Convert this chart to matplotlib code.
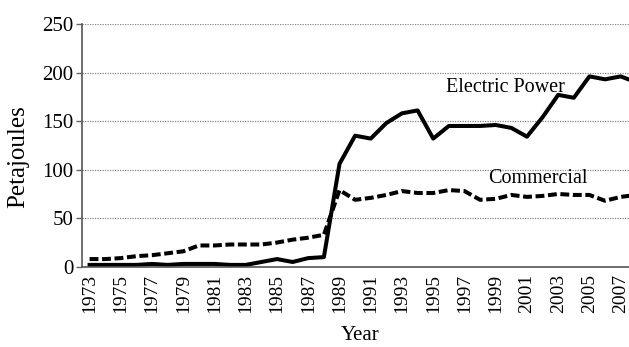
import matplotlib
matplotlib.use('Agg')
import matplotlib.pyplot as plt

plt.rcParams['font.family'] = ['Liberation Serif', 'DejaVu Serif']

# years 1973..2008
years = list(range(1973, 2009))
electric = [2, 2, 2, 2, 3, 2, 3, 3, 3, 2, 2, 5, 8, 5, 9, 10,
            106, 135, 132, 148, 158, 161, 132, 145, 145, 145, 146, 143,
            134, 154, 177, 174, 196, 193, 196, 190]
commercial = [8, 8, 9, 11, 12, 14, 16, 22, 22, 23, 23, 23, 25, 28, 30, 33,
              79, 69, 71, 74, 78, 76, 76, 79, 78, 69, 70, 74,
              72, 73, 75, 74, 74, 68, 72, 74]
tick_years = list(range(1973, 2008, 2))

fig = plt.figure(figsize=(6.29, 3.47), dpi=100)
ax = fig.add_axes([0.130, 0.231, 0.894, 0.700])

ax.plot(years, electric, color='black', lw=2.9, solid_joinstyle='round')
ax.plot(years, commercial, color='black', lw=2.9, linestyle=(0, (2.2, 0.9)))

ax.set_xlim(1972.5, 2008.5)
ax.set_ylim(0, 250)
ax.set_yticks([0, 50, 100, 150, 200, 250])
ax.set_xticks(tick_years)
ax.set_xticklabels([str(y) for y in tick_years], rotation=90)
ax.tick_params(axis='x', length=0, labelsize=14, colors='black', pad=5)
ax.tick_params(axis='y', length=4, width=1, color='#666666', labelsize=15,
               labelcolor='black', pad=2)

ax.grid(axis='y', color='#888888', linestyle=(0, (1, 1)), lw=0.9)
ax.set_axisbelow(True)
for s in ['top', 'right']:
    ax.spines[s].set_visible(False)
for s in ['left', 'bottom']:
    ax.spines[s].set_color('#555555')
    ax.spines[s].set_linewidth(1.2)

ax.text(1999.6, 185, 'Electric Power', fontsize=14.5, ha='center', va='center')
ax.text(2001.7, 91, 'Commercial', fontsize=14.5, ha='center', va='center')

# axis titles placed in figure coords
fig.text(18 / 629, 1 - 157 / 347, 'Petajoules', fontsize=18, rotation=90,
         ha='center', va='center')
fig.text(360 / 629, 1 - 335 / 347, 'Year', fontsize=15, ha='center', va='center')

fig.savefig('out.png', dpi=100)
